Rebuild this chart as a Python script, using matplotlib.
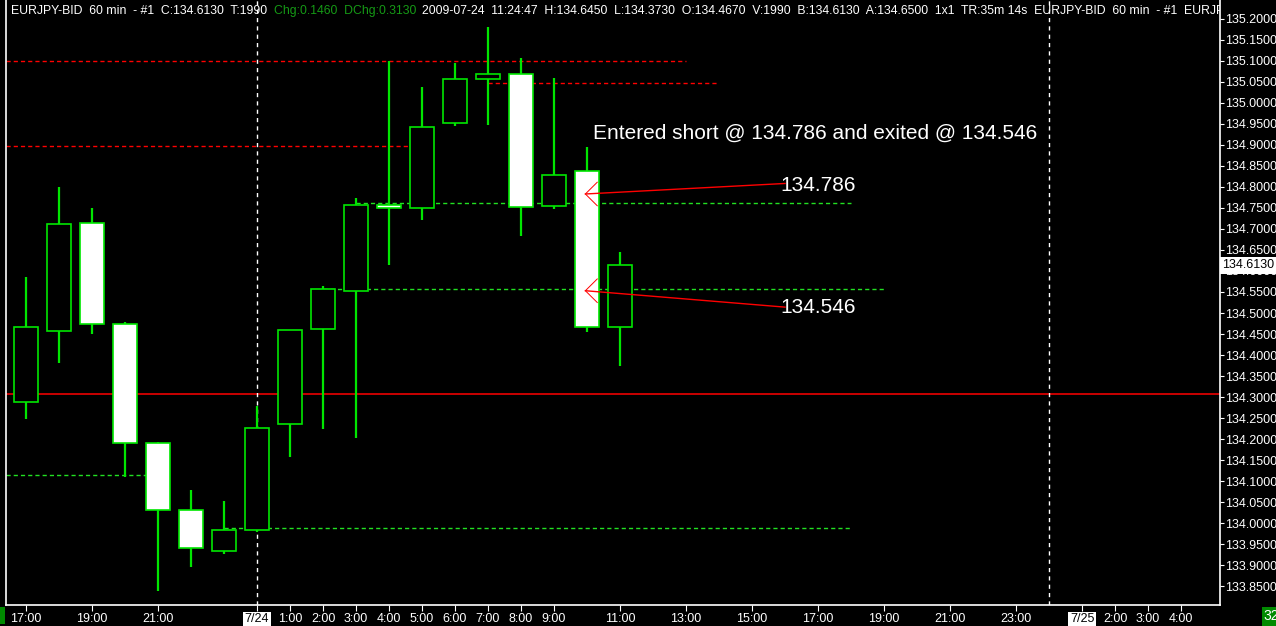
import matplotlib
matplotlib.use('Agg')
from matplotlib import pyplot as plt
from matplotlib.patches import Rectangle

plt.rcParams['font.family'] = ['Liberation Sans', 'DejaVu Sans']

# hourly EURJPY candles, 7/23 17:00 .. 7/24 11:00
opens = [134.288, 134.457, 134.713, 134.473, 134.190, 134.031, 133.934, 133.983, 134.235, 134.461,
         134.552, 134.756, 134.749, 134.951, 135.056, 135.068, 134.754, 134.837, 134.467]
highs = [134.586, 134.800, 134.750, 134.478, 134.193, 134.079, 134.053, 134.279, 134.459, 134.564,
         134.773, 135.099, 135.037, 135.094, 135.180, 135.106, 135.058, 134.895, 134.645]
lows = [134.247, 134.382, 134.451, 134.109, 133.840, 133.897, 133.928, 133.980, 134.158, 134.225,
        134.204, 134.614, 134.721, 134.945, 134.948, 134.682, 134.748, 134.456, 134.373]
closes = [134.466, 134.711, 134.473, 134.190, 134.031, 133.941, 133.983, 134.226, 134.459, 134.556,
          134.756, 134.749, 134.942, 135.056, 135.068, 134.751, 134.827, 134.467, 134.613]

tick_pos = [0, 2, 4, 7, 8, 9, 10, 11, 12, 13, 14, 15, 16, 18, 20, 22, 24, 26, 28, 30, 32, 33, 34, 35]
tick_lab = ['17:00', '19:00', '21:00', '7/24', '1:00', '2:00', '3:00', '4:00', '5:00', '6:00',
            '7:00', '8:00', '9:00', '11:00', '13:00', '15:00', '17:00', '19:00', '21:00', '23:00',
            '7/25', '2:00', '3:00', '4:00']
day_breaks = [7, 31]

# horizontal levels: (price, x start, x end)
red_levels = [(135.100, None, 20), (134.897, None, 12), (135.046, 14, 21)]
green_levels = [(134.761, 10, 25), (134.556, 9, 26), (134.115, None, 4), (133.990, 6, 25)]
base_line = 134.307

entry = 134.786
exit_ = 134.546
trade_bar = 17
last_price = 134.6130

header1 = 'EURJPY-BID  60 min  - #1  C:134.6130  T:1990'
header2 = 'Chg:0.1460  DChg:0.3130'
header3 = ('2009-07-24  11:24:47  H:134.6450  L:134.3730  O:134.4670  V:1990  B:134.6130  '
           'A:134.6500  1x1  TR:35m 14s  EURJPY-BID  60 min  - #1  EURJPY-BID  60 min')

green = '#00e600'
W, H = 1276, 626
fig = plt.figure(figsize=(W / 100, H / 100), dpi=100, facecolor='black')
ax = fig.add_axes([6 / W, 21 / H, 1214 / W, 605 / H], facecolor='black')
x0, x1 = -0.606, 36.18
ax.set_xlim(x0, x1)
ax.set_ylim(133.8058, 135.2442)

ax.axhline(base_line, color='#ff0000', lw=1.1, zorder=1)
for p, a, b in red_levels:
    ax.plot([x0 if a is None else a, b], [p, p], color='#ff0000', lw=1.0, ls=(0, (3, 2.2)), zorder=1)
for p, a, b in green_levels:
    ax.plot([x0 if a is None else a, b], [p, p], color='#22e022', lw=1.0, ls=(0, (3, 2.2)), zorder=1)
for d in day_breaks:
    ax.axvline(d, color='white', lw=1.0, ls=(0, (3, 3)), zorder=1)

bw = 0.7
for i in range(len(opens)):
    o, h, l, c = opens[i], highs[i], lows[i], closes[i]
    ax.plot([i, i], [l, h], color=green, lw=1.6, zorder=2, solid_capstyle='butt')
    lo, hi = min(o, c), max(o, c)
    face = 'black' if c > o else 'white'
    ax.add_patch(Rectangle((i - bw / 2, lo), bw, max(hi - lo, 0.004), facecolor=face,
                           edgecolor=green, lw=1.2, zorder=3))

# trade marks
dx, dy = 0.36, 0.028
tip = trade_bar - 0.05
for p, end_p, val in [(entry - 0.003, entry + 0.022, entry), (exit_ + 0.007, exit_ - 0.032, exit_)]:
    ax.plot([tip, 23], [p, end_p], color='red', lw=1.0, zorder=4)
    ax.plot([tip + dx, tip, tip + dx], [p + dy, p, p - dy], color='red', lw=0.7, zorder=4)
    ax.text(22.85, end_p - 0.004 if val == entry else end_p, '%.3f' % val,
            color='white', fontsize=15, va='center', ha='left', zorder=5)
ax.text(17.18, 134.928, 'Entered short @ %.3f and exited @ %.3f' % (entry, exit_),
        color='white', fontsize=15, va='center', ha='left', zorder=5)

# header line
for xp, s, col in [(11, header1, 'white'), (274, header2, '#159a15'), (422, header3, 'white')]:
    ax.text(xp / W, 1 - 11 / H, s, transform=fig.transFigure, color=col, fontsize=8.8,
            va='center', ha='left', clip_on=True, zorder=6)

# axes styling
for side in ['left', 'right', 'bottom']:
    ax.spines[side].set_color('white')
    ax.spines[side].set_linewidth(1.2)
ax.spines['top'].set_visible(False)
ax.yaxis.tick_right()
ax.set_yticks([133.85 + 0.05 * k for k in range(28)])
ax.yaxis.set_major_formatter(matplotlib.ticker.FormatStrFormatter('%.4f'))
ax.tick_params(axis='y', colors='white', labelsize=9, length=3, pad=1)
ax.set_xticks(tick_pos)
ax.set_xticklabels(tick_lab)
ax.tick_params(axis='x', colors='white', labelsize=9, length=4, pad=2)
for t in ax.get_xticklabels():
    if '/' in t.get_text():
        t.set_color('black')
        t.set_bbox(dict(facecolor='white', edgecolor='none', pad=1))

ax.text(1.0016, last_price, '%.4f' % last_price, transform=ax.get_yaxis_transform(), color='black',
        fontsize=9, va='center', ha='left', clip_on=False, zorder=7,
        bbox=dict(facecolor='white', edgecolor='none', pad=1.5))

fig.patches.append(Rectangle((0, 2 / H), 5 / W, 17 / H, transform=fig.transFigure, facecolor='#008a00'))
fig.patches.append(Rectangle((1262 / W, 0), 14 / W, 19 / H, transform=fig.transFigure, facecolor='#008a00'))
fig.text(1263 / W, 9.5 / H, '32', color='white', fontsize=10, va='center', ha='left')

plt.savefig('out.png', dpi=100, facecolor='black')
